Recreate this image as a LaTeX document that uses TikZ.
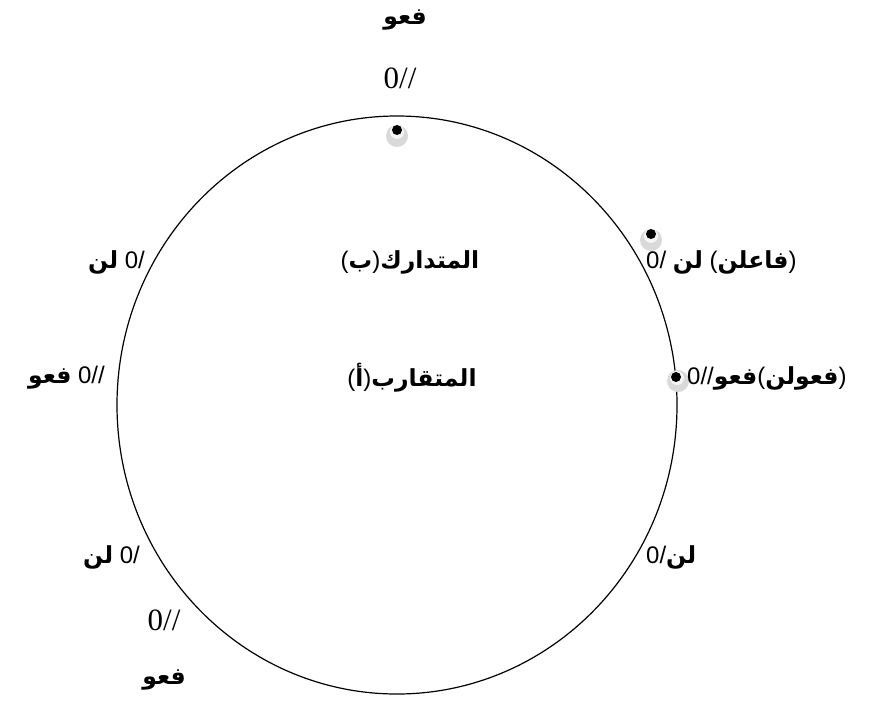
\documentclass[tikz,border=0pt]{standalone}
\usepackage{fontspec}
\setmainfont{Liberation Sans}
\newfontfamily\arabicfont[Script=Arabic]{DejaVu Sans}
\newfontfamily\numserif{Liberation Serif}
\TeXXeTstate=1
\newcommand{\arw}[1]{{\arabicfont\bfseries\fontsize{23.5}{28}\selectfont\beginR #1\endR}}

\begin{document}
\begin{tikzpicture}[x=1pt,y=-1pt,font=\fontsize{24}{28}\selectfont,
  lbl/.style={inner sep=1pt},
  bignum/.style={inner sep=1pt,font=\fontsize{31}{34}\numserif},
  halo/.style={fill=gray!30},
  dot/.style={fill=black}]
\useasboundingbox (0,0) rectangle (870,702);
% the circle of the two metres
\draw[line width=1.2pt] (397,405) ellipse [x radius=280pt,y radius=289pt];
% marked points
\fill[halo] (397,136) circle (11pt);
\fill[gray!8] (397,132) circle (7pt);
\fill[dot] (397,130) circle (5pt);
\fill[halo] (651,240) circle (11pt);
\fill[gray!8] (651,236) circle (7pt);
\fill[dot] (651,234) circle (5pt);
\fill[halo] (678,381) circle (11pt);
\fill[gray!8] (677,378) circle (7pt);
\fill[dot] (676,377) circle (5pt);
% top
\node[lbl] (topw) at (405,20) {\arw{فعو}};
\node[bignum] (topn) at (400,78) {0//};
% right side
\node[lbl,anchor=west] (rone) at (645,262) {0/ \arw{لن} (\arw{فاعلن})};
\node[lbl,anchor=west] (rtwo) at (686,378) {0//\arw{فعو}(\arw{فعولن})};
\node[lbl,anchor=west] (rthree) at (645,557) {0/\arw{لن}};
% left side
\node[lbl,anchor=east] (lone) at (146,262) {\arw{لن} 0/};
\node[lbl,anchor=east] (ltwo) at (106,378) {\arw{فعو} 0//};
\node[lbl,anchor=east] (lthree) at (141,557) {\arw{لن} 0/};
\node[bignum] (lfour) at (164,620) {0//};
\node[lbl] (lfive) at (164,680) {\arw{فعو}};
% inside
\node[lbl] (mutadarik) at (410,262) {(\arw{ب})\arw{المتدارك}};
\node[lbl] (mutaqarib) at (412,378) {(\arw{أ})\arw{المتقارب}};
\end{tikzpicture}
\end{document}
